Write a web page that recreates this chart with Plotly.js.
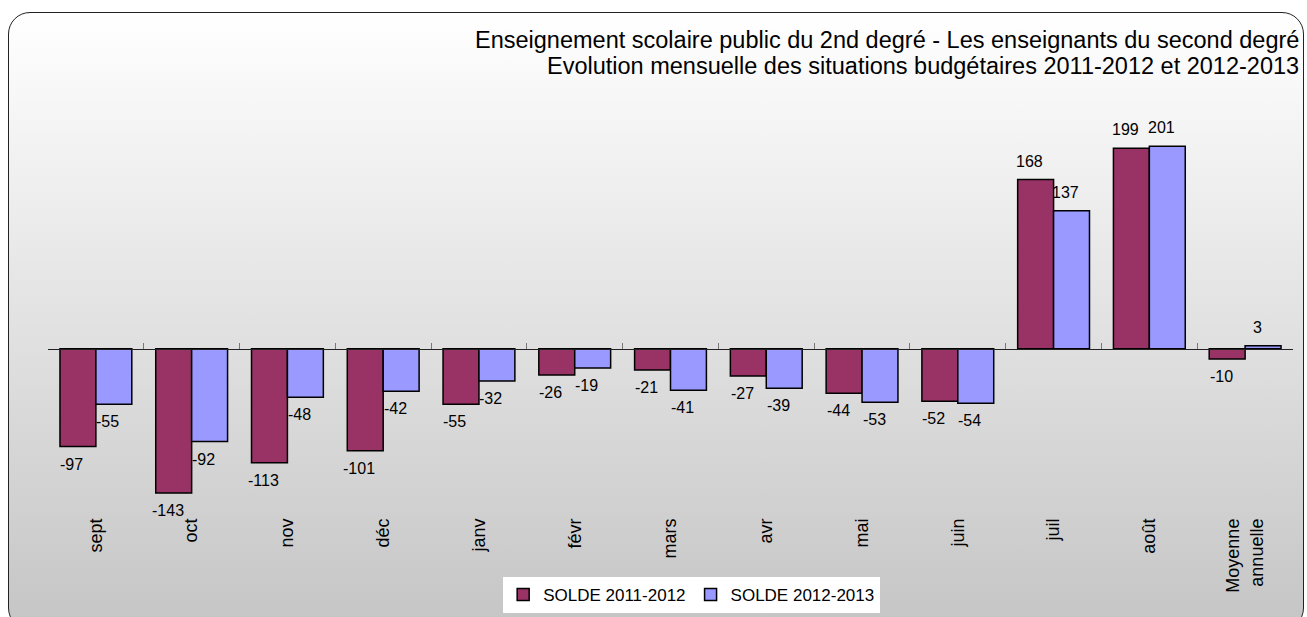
<!DOCTYPE html>
<html>
<head>
<meta charset="utf-8">
<script src="https://cdn.plot.ly/plotly-3.0.1.min.js"></script>
<style>
  html, body { margin: 0; padding: 0; width: 1307px; height: 617px; overflow: hidden; background: #ffffff; }
  #frame { position: absolute; left: 8px; top: 12px; width: 1296px; height: 618px;
           border: 1.5px solid #222; border-radius: 22px; box-sizing: border-box;
           background: linear-gradient(to bottom, #ffffff 0%, #c5c5c5 100%); }
  #chart { position: absolute; left: 0; top: 0; width: 1307px; height: 617px; }
</style>
</head>
<body>
<div id="frame"></div>
<div id="chart"></div>
<script>
// ---- data ----
const categories = ['sept','oct','nov','déc','janv','févr','mars','avr','mai','juin','juil','août','Moyenne<br>annuelle'];
const solde2011_2012 = [-97,-143,-113,-101,-55,-26,-21,-27,-44,-52,168,199,-10];
const solde2012_2013 = [-55,-92,-48,-42,-32,-19,-41,-39,-53,-54,137,201,3];
const seriesNames = ['SOLDE 2011-2012','SOLDE 2012-2013'];
const titleLines = ['Enseignement scolaire public du 2nd degré - Les enseignants du second degré',
                    'Evolution mensuelle des situations budgétaires 2011-2012 et 2012-2013'];

const FONT = 'Liberation Sans, Arial, Helvetica, sans-serif';
const yMin = -150, yMax = 247;

const traces = [
  { type: 'bar', name: seriesNames[0], x: categories, y: solde2011_2012,
    marker: { color: '#993366', line: { color: '#000000', width: 1.5 } }, hoverinfo: 'skip' },
  { type: 'bar', name: seriesNames[1], x: categories, y: solde2012_2013,
    marker: { color: '#9999FF', line: { color: '#000000', width: 1.5 } }, hoverinfo: 'skip' },
  { type: 'scatter', mode: 'markers', x: categories, y: categories.map(() => null),
    xaxis: 'x2', yaxis: 'y', showlegend: false, hoverinfo: 'skip' }
];

function labelAnns(vals, xs) {
  return vals.map((v, i) => ({
    x: categories[i], y: v, xref: 'x', yref: 'y', text: String(v), showarrow: false,
    xshift: xs, yshift: v < 0 ? -7 : 8, yanchor: v < 0 ? 'top' : 'bottom', xanchor: 'center',
    font: { family: FONT, size: 16, color: '#000' }
  }));
}

const titleY = [40, 66];
const annotations = [
  ...labelAnns(solde2011_2012, -24),
  ...labelAnns(solde2012_2013, 12),
  ...titleLines.map((t, i) => ({
    xref: 'paper', yref: 'paper', x: 1, xshift: 8, y: 1 + (100 - titleY[i]) / 400,
    xanchor: 'right', yanchor: 'middle', align: 'right', showarrow: false, text: t,
    font: { family: FONT, size: 23.5, color: '#000' }
  }))
];

const layout = {
  width: 1307, height: 617,
  margin: { l: 48, r: 14, t: 100, b: 117, autoexpand: false },
  paper_bgcolor: 'rgba(0,0,0,0)', plot_bgcolor: 'rgba(0,0,0,0)',
  barmode: 'group', bargap: 0.25, bargroupgap: 0,
  showlegend: true,
  legend: { orientation: 'h', x: 0.517, xanchor: 'center', y: -(613 - 500) / 400, yanchor: 'bottom',
            bgcolor: '#ffffff', borderwidth: 0, font: { family: FONT, size: 17, color: '#000' },
            itemwidth: 30, tracegroupgap: 0 },
  xaxis: { type: 'category', range: [-0.5, categories.length - 0.5], showline: false, showgrid: false,
           zeroline: false, ticks: '', tickangle: -90, ticklabelstandoff: 14, automargin: false,
           tickfont: { family: FONT, size: 18, color: '#000' } },
  xaxis2: { type: 'category', overlaying: 'x', anchor: 'free', side: 'bottom',
            position: (0 - yMin) / (yMax - yMin), range: [-0.5, categories.length - 0.5],
            showline: true, linecolor: '#222', linewidth: 1, showgrid: false, zeroline: false,
            ticks: 'inside', tickson: 'boundaries', ticklen: 6, tickcolor: '#777', tickwidth: 1,
            showticklabels: false, automargin: false },
  yaxis: { range: [yMin, yMax], visible: false, showgrid: false, zeroline: false, automargin: false },
  annotations: annotations,
  font: { family: FONT }
};

Plotly.newPlot('chart', traces, layout, { staticPlot: true, displayModeBar: false });
</script>
</body>
</html>
